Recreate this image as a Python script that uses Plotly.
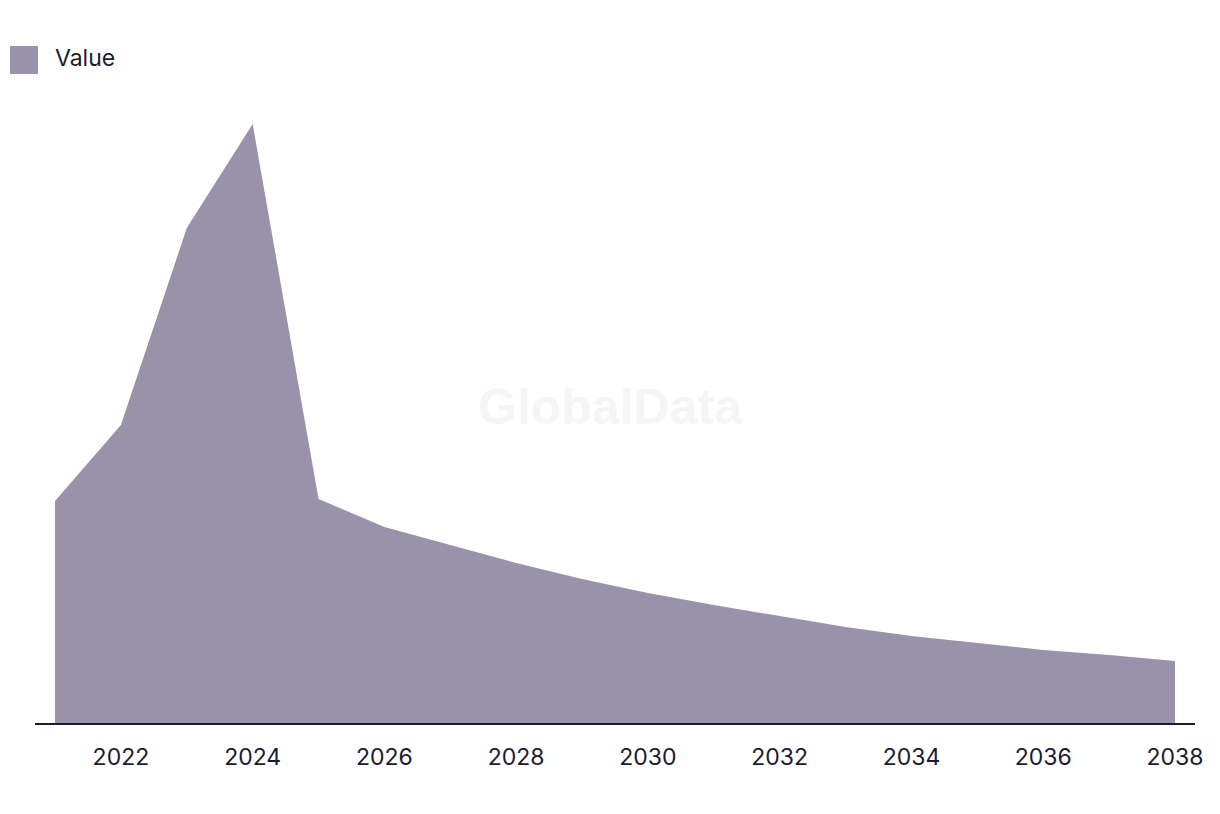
import plotly.graph_objects as go

years = list(range(2021, 2039))
values = [22.2, 29.8, 49.5, 59.9, 22.4, 19.6, 17.8, 16.0, 14.4, 13.0,
          11.8, 10.7, 9.6, 8.7, 8.0, 7.3, 6.8, 6.2]
tick_vals = list(range(2022, 2039, 2))
tick_text = [str(v) for v in tick_vals]
series_name = "Value"

FILL = "#9a91aa"
TEXT = "#1c1a33"

fig = go.Figure()
fig.add_trace(go.Scatter(
    x=years, y=values, mode="lines", fill="tozeroy",
    line=dict(width=0, color=FILL), fillcolor=FILL,
    name=series_name, showlegend=False, hoverinfo="x+y",
))

W, H = 1220, 814
ml, mr, mt, mb = 35, 25, 100, 91
pw, ph = W - ml - mr, H - mt - mb

def px(x):
    return (x - ml) / pw

def py(y):
    return (H - mb - y) / ph

fig.update_layout(
    width=W, height=H,
    margin=dict(l=ml, r=mr, t=mt, b=mb),
    paper_bgcolor="white", plot_bgcolor="white",
    font=dict(family="Inter, Roboto, sans-serif", color=TEXT, size=23),
    showlegend=False,
    xaxis=dict(
        range=[2020.696, 2038.304], tickvals=tick_vals, ticktext=tick_text,
        showgrid=False, zeroline=False, showline=True, linecolor=TEXT, linewidth=2,
        ticks="outside", ticklen=12, tickcolor="rgba(0,0,0,0)",
        tickfont=dict(size=23, color=TEXT),
    ),
    yaxis=dict(range=[0, 62.3], visible=False, showgrid=False, zeroline=False),
    shapes=[dict(
        type="rect", xref="paper", yref="paper",
        x0=px(10), x1=px(38), y0=py(74), y1=py(46),
        fillcolor=FILL, line=dict(width=0),
    )],
    annotations=[
        dict(text=series_name, xref="paper", yref="paper", x=px(53), y=py(58),
             xanchor="left", yanchor="middle", showarrow=False,
             font=dict(size=23, color=TEXT)),
        dict(text="<b>GlobalData</b>", xref="paper", yref="paper", x=px(610), y=py(407),
             xanchor="center", yanchor="middle", showarrow=False,
             font=dict(size=50, color="#f5f5f5", family="Liberation Sans, Arial, sans-serif")),
    ],
)

fig.write_html("out.html")
